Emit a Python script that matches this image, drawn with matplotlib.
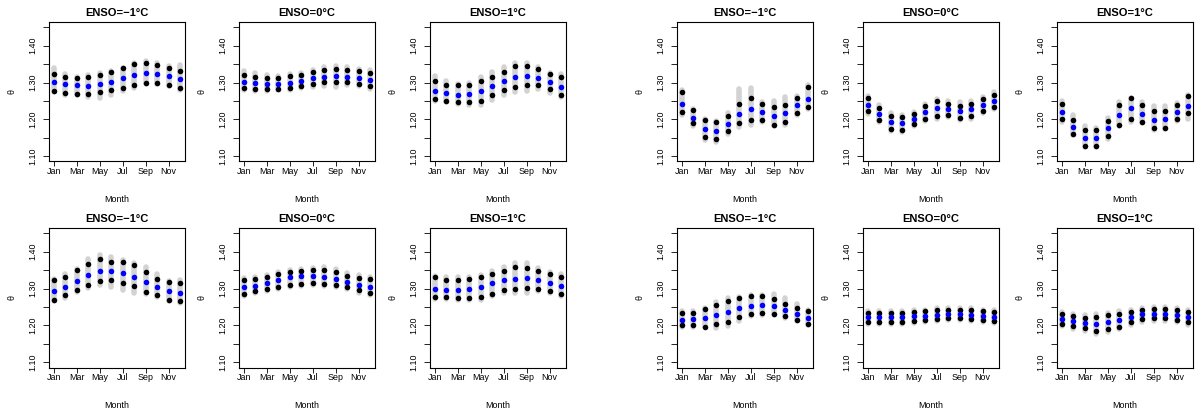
import matplotlib
matplotlib.use("Agg")
import matplotlib.pyplot as plt
import numpy as np

plt.rcParams['font.family'] = ['Liberation Sans', 'DejaVu Sans']

months = ["Jan", "Feb", "Mar", "Apr", "May", "Jun", "Jul", "Aug", "Sep", "Oct", "Nov", "Dec"]
titles = ["ENSO=\u22121\u00b0C", "ENSO=0\u00b0C", "ENSO=1\u00b0C"]
ytick_vals = [1.10, 1.15, 1.20, 1.25, 1.30, 1.35, 1.40, 1.45]
ytick_labels = ["1.10", "", "1.20", "", "1.30", "", "1.40", ""]
xlabel = "Month"
ylabel = "\u03b8"

# ---------------- Left group, top row ----------------
L_t_neg_med = [1.301, 1.295, 1.292, 1.291, 1.295, 1.302, 1.312, 1.321, 1.325, 1.323, 1.317, 1.309]
L_t_neg_qhi = [1.324, 1.315, 1.311, 1.315, 1.320, 1.328, 1.340, 1.350, 1.354, 1.347, 1.339, 1.331]
L_t_neg_qlo = [1.277, 1.271, 1.269, 1.269, 1.273, 1.279, 1.284, 1.294, 1.300, 1.300, 1.294, 1.285]
L_t_neg_hi = [1.339, 1.324, 1.316, 1.321, 1.325, 1.332, 1.340, 1.352, 1.358, 1.352, 1.345, 1.347]
L_t_neg_lo = [1.273, 1.267, 1.266, 1.261, 1.258, 1.267, 1.276, 1.285, 1.296, 1.296, 1.290, 1.279]

L_t_zero_med = [1.302, 1.299, 1.295, 1.297, 1.300, 1.305, 1.311, 1.316, 1.318, 1.316, 1.311, 1.307]
L_t_zero_qhi = [1.320, 1.315, 1.312, 1.312, 1.317, 1.321, 1.328, 1.335, 1.337, 1.334, 1.330, 1.325]
L_t_zero_qlo = [1.285, 1.282, 1.282, 1.282, 1.285, 1.291, 1.296, 1.301, 1.302, 1.301, 1.296, 1.291]
L_t_zero_hi = [1.332, 1.327, 1.320, 1.318, 1.323, 1.325, 1.334, 1.342, 1.345, 1.342, 1.336, 1.335]
L_t_zero_lo = [1.279, 1.278, 1.278, 1.279, 1.280, 1.286, 1.289, 1.290, 1.289, 1.292, 1.290, 1.282]

L_t_pos_med = [1.278, 1.271, 1.267, 1.269, 1.277, 1.290, 1.303, 1.315, 1.318, 1.313, 1.302, 1.289]
L_t_pos_qhi = [1.304, 1.294, 1.292, 1.294, 1.305, 1.316, 1.328, 1.345, 1.346, 1.337, 1.324, 1.315]
L_t_pos_qlo = [1.255, 1.250, 1.246, 1.246, 1.251, 1.267, 1.279, 1.288, 1.292, 1.292, 1.282, 1.267]
L_t_pos_hi = [1.318, 1.305, 1.296, 1.300, 1.314, 1.328, 1.343, 1.354, 1.354, 1.342, 1.326, 1.324]
L_t_pos_lo = [1.251, 1.247, 1.243, 1.240, 1.240, 1.253, 1.266, 1.274, 1.276, 1.282, 1.272, 1.260]

# ---------------- Left group, bottom row ----------------
L_b_neg_med = [1.292, 1.304, 1.321, 1.336, 1.347, 1.348, 1.342, 1.332, 1.317, 1.304, 1.293, 1.287]
L_b_neg_qhi = [1.322, 1.330, 1.350, 1.366, 1.380, 1.373, 1.371, 1.365, 1.345, 1.325, 1.319, 1.316]
L_b_neg_qlo = [1.268, 1.282, 1.297, 1.309, 1.320, 1.322, 1.315, 1.306, 1.291, 1.282, 1.270, 1.265]
L_b_neg_hi = [1.327, 1.338, 1.354, 1.381, 1.390, 1.386, 1.378, 1.370, 1.357, 1.340, 1.321, 1.323]
L_b_neg_lo = [1.265, 1.275, 1.291, 1.302, 1.309, 1.304, 1.296, 1.289, 1.286, 1.278, 1.267, 1.262]

L_b_zero_med = [1.305, 1.308, 1.315, 1.323, 1.330, 1.333, 1.334, 1.332, 1.325, 1.317, 1.310, 1.305]
L_b_zero_qhi = [1.322, 1.325, 1.331, 1.339, 1.345, 1.348, 1.350, 1.351, 1.345, 1.335, 1.329, 1.325]
L_b_zero_qlo = [1.286, 1.293, 1.300, 1.304, 1.310, 1.313, 1.315, 1.313, 1.310, 1.304, 1.295, 1.289]
L_b_zero_hi = [1.328, 1.331, 1.337, 1.345, 1.351, 1.354, 1.356, 1.357, 1.352, 1.342, 1.336, 1.331]
L_b_zero_lo = [1.280, 1.287, 1.294, 1.298, 1.304, 1.307, 1.309, 1.307, 1.304, 1.298, 1.289, 1.283]

L_b_pos_med = [1.300, 1.297, 1.297, 1.300, 1.305, 1.314, 1.322, 1.327, 1.328, 1.322, 1.315, 1.307]
L_b_pos_qhi = [1.330, 1.324, 1.324, 1.327, 1.332, 1.339, 1.348, 1.358, 1.355, 1.347, 1.339, 1.332]
L_b_pos_qlo = [1.278, 1.276, 1.275, 1.275, 1.278, 1.286, 1.296, 1.300, 1.302, 1.298, 1.293, 1.284]
L_b_pos_hi = [1.334, 1.331, 1.331, 1.331, 1.336, 1.348, 1.357, 1.368, 1.368, 1.356, 1.345, 1.338]
L_b_pos_lo = [1.272, 1.271, 1.270, 1.270, 1.270, 1.279, 1.287, 1.287, 1.287, 1.292, 1.287, 1.279]

# ---------------- Right group, top row ----------------
R_t_neg_med = [1.242, 1.204, 1.174, 1.169, 1.187, 1.215, 1.227, 1.219, 1.209, 1.217, 1.239, 1.255]
R_t_neg_qhi = [1.273, 1.226, 1.199, 1.194, 1.208, 1.242, 1.257, 1.242, 1.235, 1.239, 1.258, 1.287]
R_t_neg_qlo = [1.219, 1.189, 1.152, 1.146, 1.168, 1.190, 1.199, 1.199, 1.186, 1.193, 1.218, 1.233]
R_t_neg_hi = [1.280, 1.228, 1.201, 1.196, 1.217, 1.282, 1.286, 1.246, 1.251, 1.260, 1.264, 1.292]
R_t_neg_lo = [1.213, 1.181, 1.145, 1.140, 1.161, 1.180, 1.186, 1.193, 1.181, 1.186, 1.213, 1.228]

R_t_zero_med = [1.239, 1.214, 1.193, 1.190, 1.201, 1.220, 1.230, 1.227, 1.222, 1.227, 1.240, 1.249]
R_t_zero_qhi = [1.257, 1.231, 1.210, 1.207, 1.215, 1.237, 1.249, 1.242, 1.236, 1.242, 1.255, 1.267]
R_t_zero_qlo = [1.222, 1.199, 1.174, 1.171, 1.187, 1.202, 1.208, 1.212, 1.205, 1.208, 1.223, 1.233]
R_t_zero_hi = [1.264, 1.238, 1.217, 1.213, 1.221, 1.243, 1.255, 1.250, 1.246, 1.250, 1.261, 1.273]
R_t_zero_lo = [1.216, 1.193, 1.168, 1.165, 1.181, 1.196, 1.202, 1.206, 1.199, 1.202, 1.217, 1.227]

R_t_pos_med = [1.221, 1.180, 1.150, 1.149, 1.176, 1.213, 1.230, 1.216, 1.199, 1.201, 1.221, 1.236]
R_t_pos_qhi = [1.243, 1.199, 1.172, 1.172, 1.195, 1.239, 1.258, 1.239, 1.224, 1.224, 1.239, 1.264]
R_t_pos_qlo = [1.200, 1.161, 1.128, 1.128, 1.156, 1.186, 1.202, 1.194, 1.178, 1.178, 1.201, 1.217]
R_t_pos_hi = [1.251, 1.212, 1.182, 1.178, 1.203, 1.247, 1.257, 1.247, 1.237, 1.237, 1.244, 1.267]
R_t_pos_lo = [1.192, 1.158, 1.124, 1.124, 1.147, 1.181, 1.194, 1.190, 1.172, 1.173, 1.196, 1.202]

# ---------------- Right group, bottom row ----------------
R_b_neg_med = [1.216, 1.217, 1.221, 1.229, 1.237, 1.246, 1.254, 1.256, 1.253, 1.243, 1.231, 1.220]
R_b_neg_qhi = [1.235, 1.235, 1.244, 1.256, 1.267, 1.274, 1.279, 1.280, 1.272, 1.258, 1.248, 1.238]
R_b_neg_qlo = [1.200, 1.200, 1.197, 1.203, 1.210, 1.222, 1.230, 1.234, 1.232, 1.225, 1.215, 1.205]
R_b_neg_hi = [1.238, 1.238, 1.248, 1.263, 1.273, 1.278, 1.282, 1.282, 1.286, 1.273, 1.257, 1.243]
R_b_neg_lo = [1.196, 1.197, 1.195, 1.193, 1.198, 1.212, 1.226, 1.228, 1.227, 1.220, 1.211, 1.201]

R_b_zero_med = [1.222, 1.222, 1.222, 1.223, 1.225, 1.226, 1.229, 1.231, 1.231, 1.229, 1.226, 1.224]
R_b_zero_qhi = [1.235, 1.235, 1.235, 1.235, 1.236, 1.238, 1.241, 1.243, 1.243, 1.241, 1.238, 1.236]
R_b_zero_qlo = [1.210, 1.210, 1.210, 1.210, 1.212, 1.215, 1.218, 1.220, 1.220, 1.218, 1.215, 1.212]
R_b_zero_hi = [1.240, 1.240, 1.240, 1.240, 1.241, 1.243, 1.246, 1.248, 1.248, 1.246, 1.243, 1.241]
R_b_zero_lo = [1.205, 1.205, 1.205, 1.205, 1.207, 1.210, 1.213, 1.215, 1.215, 1.213, 1.210, 1.207]

R_b_pos_med = [1.217, 1.211, 1.206, 1.205, 1.208, 1.214, 1.223, 1.230, 1.232, 1.231, 1.229, 1.222]
R_b_pos_qhi = [1.230, 1.225, 1.220, 1.223, 1.227, 1.232, 1.237, 1.241, 1.244, 1.244, 1.241, 1.236]
R_b_pos_qlo = [1.205, 1.198, 1.192, 1.186, 1.190, 1.196, 1.208, 1.217, 1.220, 1.219, 1.215, 1.209]
R_b_pos_hi = [1.236, 1.231, 1.227, 1.230, 1.234, 1.238, 1.243, 1.247, 1.250, 1.250, 1.247, 1.242]
R_b_pos_lo = [1.198, 1.191, 1.184, 1.178, 1.182, 1.189, 1.201, 1.210, 1.213, 1.212, 1.208, 1.202]

panels = [
    # (col_left_px, row_top_px, title_idx, med, qlo, qhi, lo, hi)
    (49, 22, 0, L_t_neg_med, L_t_neg_qlo, L_t_neg_qhi, L_t_neg_lo, L_t_neg_hi),
    (239, 22, 1, L_t_zero_med, L_t_zero_qlo, L_t_zero_qhi, L_t_zero_lo, L_t_zero_hi),
    (430, 22, 2, L_t_pos_med, L_t_pos_qlo, L_t_pos_qhi, L_t_pos_lo, L_t_pos_hi),
    (49, 228, 0, L_b_neg_med, L_b_neg_qlo, L_b_neg_qhi, L_b_neg_lo, L_b_neg_hi),
    (239, 228, 1, L_b_zero_med, L_b_zero_qlo, L_b_zero_qhi, L_b_zero_lo, L_b_zero_hi),
    (430, 228, 2, L_b_pos_med, L_b_pos_qlo, L_b_pos_qhi, L_b_pos_lo, L_b_pos_hi),
    (677, 22, 0, R_t_neg_med, R_t_neg_qlo, R_t_neg_qhi, R_t_neg_lo, R_t_neg_hi),
    (863, 22, 1, R_t_zero_med, R_t_zero_qlo, R_t_zero_qhi, R_t_zero_lo, R_t_zero_hi),
    (1057, 22, 2, R_t_pos_med, R_t_pos_qlo, R_t_pos_qhi, R_t_pos_lo, R_t_pos_hi),
    (677, 228, 0, R_b_neg_med, R_b_neg_qlo, R_b_neg_qhi, R_b_neg_lo, R_b_neg_hi),
    (863, 228, 1, R_b_zero_med, R_b_zero_qlo, R_b_zero_qhi, R_b_zero_lo, R_b_zero_hi),
    (1057, 228, 2, R_b_pos_med, R_b_pos_qlo, R_b_pos_qhi, R_b_pos_lo, R_b_pos_hi),
]

W, H = 1195, 415
fig = plt.figure(figsize=(W / 100, H / 100), dpi=100)
aw, ah = 136, 139.5

x = np.arange(1, 13)
for (lpx, tpx, ti, med, qlo, qhi, lo, hi) in panels:
    ax = fig.add_axes([lpx / W, (H - tpx - ah) / H, aw / W, ah / H])
    ax.vlines(x, lo, hi, colors="#d3d3d3", linewidth=4.0, capstyle="round", zorder=1)
    ax.plot(x, qhi, "o", color="black", markersize=4.0, markeredgewidth=0, zorder=2)
    ax.plot(x, qlo, "o", color="black", markersize=4.0, markeredgewidth=0, zorder=2)
    ax.plot(x, med, "o", color="#0000ff", markersize=4.0, markeredgewidth=0, zorder=3)
    ax.set_xlim(0.56, 12.44)
    ax.set_ylim(1.086, 1.464)
    ax.set_xticks(x[::2])
    ax.set_xticklabels(months[::2], fontsize=6.4)
    ax.set_yticks(ytick_vals)
    ax.set_yticklabels(ytick_labels, fontsize=6.4, rotation=90, va="center")
    ax.tick_params(axis="x", length=3.6, width=0.6, pad=0.3)
    ax.tick_params(axis="y", length=4.0, width=0.6, pad=4.4)
    for s in ax.spines.values():
        s.set_linewidth(0.8)
    ax.set_title(titles[ti], fontsize=8, fontweight="bold", pad=4.6)
    fig.text((lpx + aw / 2) / W, (H - (tpx + ah + 38)) / H, xlabel,
             fontsize=6.4, ha="center", va="center")
    fig.text((lpx - 37) / W, (H - (tpx + ah / 2)) / H, ylabel,
             fontsize=6.4, ha="center", va="center", rotation=90)

fig.savefig("out.png", dpi=100)
